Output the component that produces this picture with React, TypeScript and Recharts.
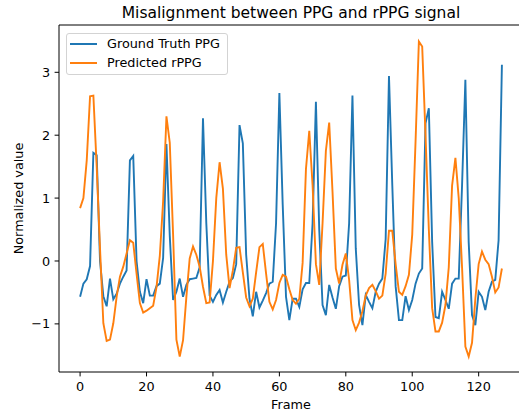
import React from 'react';
import { LineChart, Line, XAxis, YAxis } from 'recharts';

const groundTruth: number[] = [
  -0.57, -0.36, -0.29, -0.08, 1.72, 1.68, 0.0, -0.56, -0.72, -0.28,
  -0.61, -0.52, -0.36, -0.25, -0.15, 1.6, 1.67, 0.0, -0.49, -0.67,
  -0.29, -0.55, -0.55, -0.4, -0.36, 0.05, 1.86, 0.4, -0.62, -0.49,
  -0.28, -0.57, -0.38, -0.29, -0.28, -0.27, -0.1, 2.27, 0.6, -0.55,
  -0.65, -0.54, -0.46, -0.66, -0.49, -0.33, -0.27, -0.05, 2.16, 1.87,
  0.1, -0.6, -0.88, -0.49, -0.74, -0.63, -0.51, -0.36, -0.33, 0.6,
  2.67, 0.9, -0.57, -0.94, -0.6, -0.6, -0.73, -0.45, -0.35, -0.35,
  0.6, 2.53, 0.5, -0.7, -0.86, -0.38, -0.58, -0.76, -0.4, -0.25,
  -0.23, 0.6, 2.63, 0.2, -0.7, -1.02, -0.54, -0.65, -0.75, -0.49,
  -0.36, -0.28, 0.35, 2.94, 1.2, -0.4, -0.94, -0.94, -0.56, -0.78,
  -0.62, -0.36, -0.2, -0.12, 2.19, 2.43, 0.3, -0.89, -0.91, -0.49,
  -0.62, -0.76, -0.36, -0.28, -0.28, 1.2, 2.88, 0.3, -0.86, -1.02,
  -0.49, -0.57, -0.78, -0.49, -0.33, -0.3, 0.33, 3.12,
];

const predicted: number[] = [
  0.84, 1.0, 1.6, 2.62, 2.63, 1.5, 0.2, -0.99, -1.27, -1.25,
  -0.99, -0.57, -0.25, -0.09, 0.12, 0.33, 0.29, -0.2, -0.67, -0.82,
  -0.79, -0.75, -0.71, -0.42, 0.08, 0.95, 2.3, 1.88, 0.42, -1.25,
  -1.52, -1.26, -0.57, 0.04, 0.23, 0.1, -0.09, -0.41, -0.67, -0.66,
  0.0, 1.0, 1.57, 1.15, 0.1, -0.43, -0.15, 0.21, 0.22, -0.18,
  -0.58, -0.72, -0.6, -0.18, 0.22, 0.27, -0.2, -0.65, -0.77, -0.62,
  -0.35, -0.22, -0.25, -0.45, -0.62, -0.68, -0.6, -0.03, 1.46, 2.07,
  1.2, -0.05, -0.38, 0.6, 1.75, 2.2, 1.1, -0.12, -0.36, -0.06,
  0.12, -0.3, -0.94, -1.1, -0.98, -0.8, -0.55, -0.43, -0.38, -0.48,
  -0.6, -0.55, -0.2, 0.48, 0.48, -0.05, -0.49, -0.54, -0.4, -0.22,
  0.42, 1.9, 3.49, 3.41, 2.0, 0.5, -0.75, -1.12, -1.12, -0.98,
  -0.7, -0.1, 1.2, 1.64, 1.0, -0.1, -1.36, -1.52, -1.3, -0.6,
  -0.05, 0.15, 0.02, -0.05, -0.25, -0.5, -0.42, -0.12,
];

const xTicks: number[] = [0, 20, 40, 60, 80, 100, 120];
const yTicks: number[] = [-1, 0, 1, 2, 3];
const seriesNames: string[] = ['Ground Truth PPG', 'Predicted rPPG'];
const seriesColors: string[] = ['#1f77b4', '#ff7f0e'];

const data = groundTruth.map((v, i) => ({ frame: i, gt: v, pred: predicted[i] }));

const FONT = 'DejaVu Sans, sans-serif';
const FS = 12.8;

const fmtY = (v: number) => (v < 0 ? '\u2212' + Math.abs(v) : String(v));

function LegendBox() {
  return (
    <div
      style={{
        position: 'absolute',
        left: 66,
        top: 33,
        width: 162,
        height: 42,
        boxSizing: 'border-box',
        border: '1px solid #d3d3d3',
        borderRadius: 3,
        background: 'rgba(255,255,255,0.8)',
        fontFamily: FONT,
        fontSize: FS,
        color: '#000',
      }}
    >
      {seriesNames.map((name, k) => (
        <React.Fragment key={name}>
          <div
            style={{
              position: 'absolute',
              left: 3,
              top: 8.7 + k * 19.6,
              width: 27,
              height: 2,
              background: seriesColors[k],
            }}
          />
          <div
            style={{
              position: 'absolute',
              left: 40,
              top: 1.7 + k * 19.6,
              height: 16,
              lineHeight: '16px',
              whiteSpace: 'nowrap',
            }}
          >
            {name}
          </div>
        </React.Fragment>
      ))}
    </div>
  );
}

export default function App() {
  return (
    <div
      style={{
        position: 'absolute',
        left: 0,
        top: 0,
        width: 519,
        height: 415,
        overflow: 'hidden',
        background: '#fff',
        fontFamily: FONT,
      }}
    >
      <div
        style={{
          position: 'absolute',
          left: 291,
          top: 13.5,
          transform: 'translate(-50%, -50%)',
          fontSize: 15.5,
          lineHeight: 1,
          whiteSpace: 'nowrap',
          color: '#000',
        }}
      >
        Misalignment between PPG and rPPG signal
      </div>
      <LineChart
        width={519}
        height={415}
        data={data}
        margin={{ top: 24, right: -4, bottom: 0, left: 0 }}
        style={{ fontFamily: FONT }}
      >
        <XAxis
          dataKey="frame"
          type="number"
          domain={[-6.35, 133.35]}
          allowDataOverflow
          ticks={xTicks}
          height={43}
          tickSize={4.4}
          tickMargin={5.5}
          tick={{ fill: '#000', fontSize: FS }}
          tickLine={{ stroke: '#000', strokeWidth: 1 }}
          axisLine={{ stroke: '#000', strokeWidth: 1 }}
          label={{ value: 'Frame', position: 'insideBottom', offset: 6.5, style: { fill: '#000', fontSize: FS } }}
        />
        <XAxis
          xAxisId="top"
          orientation="top"
          dataKey="frame"
          type="number"
          domain={[-6.35, 133.35]}
          allowDataOverflow
          height={1}
          ticks={xTicks}
          tick={false}
          tickLine={false}
          axisLine={{ stroke: '#000', strokeWidth: 1 }}
        />
        <YAxis
          type="number"
          domain={[-1.765, 3.752]}
          allowDataOverflow
          ticks={yTicks}
          width={59}
          tickSize={4.4}
          tickMargin={4.5}
          tickFormatter={fmtY}
          tick={{ fill: '#000', fontSize: FS }}
          tickLine={{ stroke: '#000', strokeWidth: 1 }}
          axisLine={{ stroke: '#000', strokeWidth: 1 }}
          label={{
            value: 'Normalized value',
            angle: -90,
            position: 'insideLeft',
            offset: 18,
            style: { textAnchor: 'middle', fill: '#000', fontSize: FS },
          }}
        />
        <Line
          type="linear"
          dataKey="gt"
          name={seriesNames[0]}
          stroke={seriesColors[0]}
          strokeWidth={1.9}
          dot={false}
          activeDot={false}
          isAnimationActive={false}
        />
        <Line
          type="linear"
          dataKey="pred"
          name={seriesNames[1]}
          stroke={seriesColors[1]}
          strokeWidth={1.9}
          dot={false}
          activeDot={false}
          isAnimationActive={false}
        />
      </LineChart>
      <LegendBox />
    </div>
  );
}
